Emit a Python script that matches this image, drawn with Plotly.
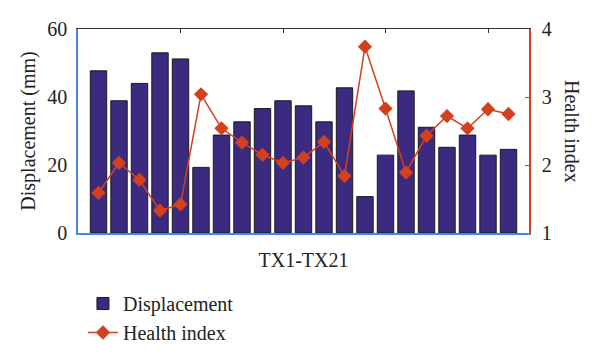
import plotly.graph_objects as go

categories = list(range(1, 22))
displacement = [47.7, 38.9, 44.0, 53.0, 51.2, 19.3, 28.8, 32.7, 36.6, 38.9, 37.4,
                32.7, 42.7, 10.7, 22.9, 41.8, 31.1, 25.2, 28.8, 22.9, 24.6]
health_index = [1.59, 2.03, 1.78, 1.33, 1.42, 3.04, 2.54, 2.33, 2.15, 2.03, 2.11,
                2.34, 1.84, 3.74, 2.83, 1.89, 2.43, 2.72, 2.54, 2.82, 2.75]
left_ticks = [0, 20, 40, 60]
right_ticks = [1, 2, 3, 4]
top_ticks = [5, 10, 15, 20]

BAR = "#3b2a80"
RED = "#d2401e"
BLUE = "#4a86d8"
FONT = "Liberation Serif"

fig = go.Figure()
fig.add_trace(go.Bar(x=categories, y=displacement, name="Displacement", width=0.8,
                     marker=dict(color=BAR, line=dict(color="#1a1a1a", width=1)),
                     yaxis="y"))
fig.add_trace(go.Scatter(x=categories, y=health_index, name="Health index", mode="lines+markers",
                         line=dict(color=RED, width=1.5),
                         marker=dict(symbol="diamond", size=11, color=RED),
                         yaxis="y2"))
fig.add_trace(go.Scatter(x=[None], y=[None], xaxis="x2", showlegend=False, hoverinfo="skip"))

fig.update_layout(
    width=600, height=363,
    margin=dict(l=70, r=79, t=21, b=138, autoexpand=False),
    paper_bgcolor="white", plot_bgcolor="white",
    font=dict(family=FONT, size=20, color="#222"),
    bargap=0.2,
    xaxis=dict(range=[0, 22], showline=True, linecolor=BLUE, linewidth=1.5, automargin=False,
               showticklabels=False, ticks="", showgrid=False, zeroline=False,
               title=dict(text="TX1-TX21", standoff=19, font=dict(size=20))),
    xaxis2=dict(range=[0, 22], overlaying="x", side="top", anchor="y", showline=True,
                automargin=False,
                linecolor="#333", linewidth=1, ticks="inside", ticklen=4, tickcolor="#333",
                tickvals=top_ticks, showticklabels=False, showgrid=False, zeroline=False),
    yaxis=dict(range=[0, 60], tickvals=left_ticks, showline=True, linecolor=BLUE, linewidth=1.5,
               ticks="", showgrid=False, zeroline=False, automargin=False,
               ticklabelstandoff=5,
               title=dict(text="Displacement (mm)", standoff=6, font=dict(size=20))),
    yaxis2=dict(range=[1, 4], tickvals=right_ticks, overlaying="y", side="right", anchor="x",
                showline=True, linecolor=RED, linewidth=1.5, ticks="inside", ticklen=4,
                automargin=False, ticklabelstandoff=7,
                tickcolor=RED, showgrid=False, zeroline=False),
    legend=dict(x=0.011, y=-0.25, xanchor="left", yanchor="top", bgcolor="rgba(0,0,0,0)",
                font=dict(size=20), tracegroupgap=2),
    annotations=[dict(text="Health index", xref="paper", yref="paper", x=1.0, y=0.5,
                      xshift=56, showarrow=False, textangle=90, font=dict(size=20))],
)

fig.write_html("out.html")
